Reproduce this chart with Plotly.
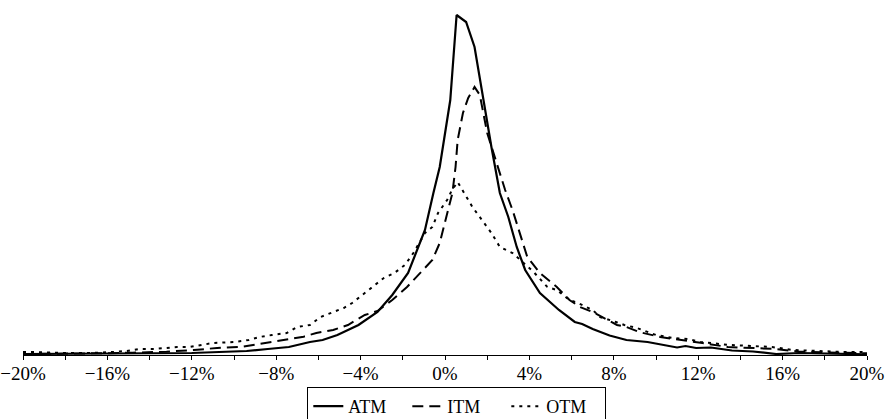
import plotly.graph_objects as go

# Return (%); frequency in arbitrary units
atm_x = [-20, -19.5, -16, -12, -10.2, -9.4, -8.4, -7.4, -6.4, -5.8, -5.1, -4.1, -3.2, -2.5,
         -1.75, -0.95, -0.55, -0.25, 0.25, 0.55, 1.0, 1.4, 2.2, 2.6, 3.0, 3.4, 3.8, 4.5, 5.4,
         6.15, 6.5, 7.0, 7.8, 8.6, 9.6, 10.3, 11.0, 11.4, 11.9, 12.6, 13.0, 13.6, 14.6, 15.7,
         16.8, 18.4, 20]
atm_y = [1, 1, 1.5, 2, 3, 4, 6, 8, 13, 15, 20, 30, 43, 60,
         82, 125, 162, 188, 255, 340, 333, 308, 208, 162, 138, 108, 85, 62, 45,
         33, 31, 26, 19.5, 15, 13, 10, 7.5, 9, 7, 7.5, 6, 4.5, 3.5, 1,
         2, 1, 0.7]

itm_x = [-20, -19.5, -16.4, -14.8, -13.2, -11.9, -10.8, -9.6, -8.6, -7.7, -6.7, -6.1, -5.3,
         -4.6, -3.8, -3.2, -2.5, -1.8, -1.2, -0.6, -0.25, 0.1, 0.35, 0.5, 0.6, 0.85, 1.1, 1.4,
         1.65, 2.0, 2.45, 2.85, 3.2, 3.55, 3.9, 4.5, 5.3, 5.9, 6.4, 7.0, 7.5, 8.15, 8.6, 9.2,
         10.2, 11.3, 12.2, 13.4, 14.6, 15.7, 16.8, 18.4, 20]
itm_y = [1, 1, 1.7, 2.3, 3.3, 5, 7, 8.3, 12, 15, 18.3, 22, 25,
         30, 40, 44, 55, 68, 82, 95, 112, 142, 162, 188, 215, 242, 257, 268,
         260, 222, 192, 165, 145, 122, 98, 82, 68, 55, 48, 43, 37, 30, 28, 23,
         18, 15, 12, 8, 7, 6, 3.3, 2.3, 1.7]

otm_x = [-20, -19.7, -17.9, -16.8, -15.7, -15.1, -14.5, -13.8, -12.7, -12.1, -11.0, -10.0,
         -9.3, -8.8, -8.2, -7.5, -7.0, -6.4, -5.9, -5.4, -4.8, -4.4, -3.8, -3.4, -2.9, -2.4,
         -1.9, -1.5, -0.95, -0.6, -0.33, 0.1, 0.33, 0.6, 1.3, 2.2, 2.6, 3.2, 4.2, 4.85, 5.3,
         5.9, 6.3, 7.0, 7.35, 8.1, 8.5, 9.1, 10.0, 10.8, 11.5, 12.1, 13.5, 14.5, 15.5, 16.5,
         17.6, 18.9, 20]
otm_y = [3, 3, 2, 2, 3, 4, 6, 6, 8, 8, 12, 13,
         15, 18, 20, 22, 28, 30, 38, 42, 47, 52, 62, 68, 77, 82,
         90, 102, 122, 128, 142, 155, 165, 173, 148, 122, 108, 102, 83, 68, 65,
         55, 52, 45, 38, 33, 30, 27, 20, 17, 16, 13, 10, 9, 8, 5,
         4, 3, 3]

tick_vals = [-20, -16, -12, -8, -4, 0, 4, 8, 12, 16, 20]
tick_text = ["\u221220%", "\u221216%", "\u221212%", "\u22128%", "\u22124%", "0%",
             "4%", "8%", "12%", "16%", "20%"]

FONT = "Liberation Serif, Times New Roman, serif"

fig = go.Figure()
fig.add_trace(go.Scatter(x=atm_x, y=atm_y, mode="lines", name="ATM",
                         line=dict(color="black", width=2.2)))
fig.add_trace(go.Scatter(x=itm_x, y=itm_y, mode="lines", name="ITM",
                         line=dict(color="black", width=2, dash="11px,6px")))
fig.add_trace(go.Scatter(x=otm_x, y=otm_y, mode="lines", name="OTM",
                         line=dict(color="black", width=2, dash="3px,5px")))

fig.update_layout(
    width=892, height=419,
    margin=dict(l=23, r=25, t=10, b=64, autoexpand=False),
    paper_bgcolor="white", plot_bgcolor="white",
    font=dict(family=FONT, size=19, color="black"),
    showlegend=True,
    legend=dict(orientation="h", xref="paper", x=0.514, xanchor="center",
                yref="container", y=(419 - 387) / 419, yanchor="top",
                bordercolor="black", borderwidth=1, font=dict(family=FONT, size=18),
                itemwidth=30, tracegroupgap=0, bgcolor="white",
                entrywidth=54, entrywidthmode="pixels"),
    xaxis=dict(range=[-20, 20], tickvals=tick_vals, ticktext=tick_text,
               ticks="outside", ticklen=4, tickcolor="black", tickwidth=1,
               ticklabelstandoff=-3,
               showline=True, linecolor="black", linewidth=1, showgrid=False,
               zeroline=False, tickfont=dict(family=FONT, size=19),
               minor=dict(dtick=2, tick0=0, ticks="outside", ticklen=4,
                          tickcolor="black", showgrid=False)),
    yaxis=dict(range=[0, 345], visible=False, showgrid=False, zeroline=False),
)

fig.write_html("out.html")
